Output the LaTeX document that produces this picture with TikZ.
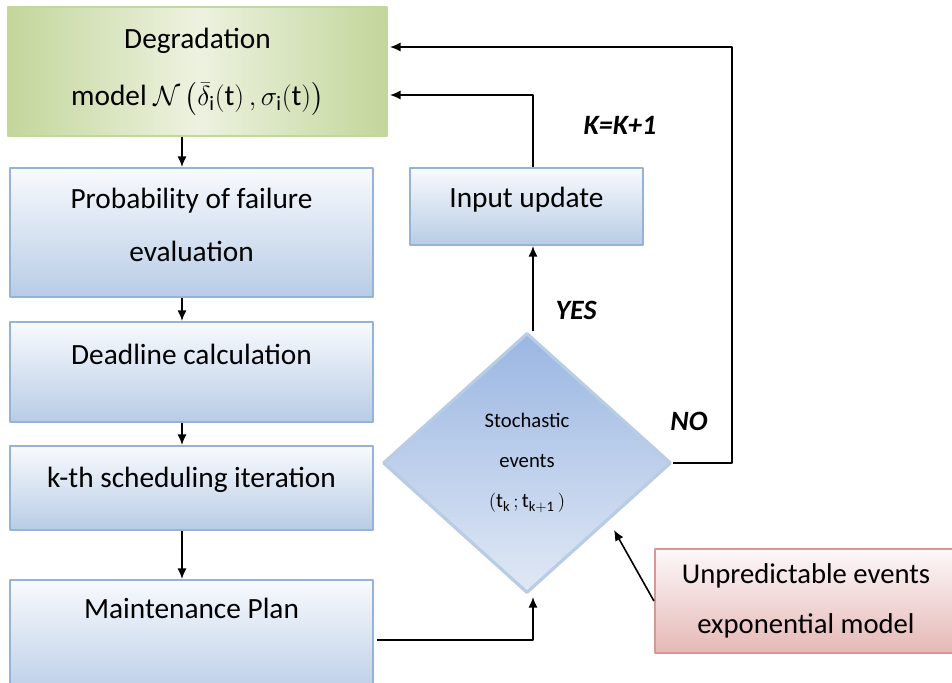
\documentclass[tikz,border=0pt]{standalone}
\usepackage{fontspec}
\setmainfont{Carlito}
\usepackage{amsmath}
\usepackage{tikz}
\usetikzlibrary{arrows, arrows.meta, shapes, positioning, calc}

\definecolor{GreenLine}{HTML}{C3D69B}
\definecolor{GreenDark}{HTML}{C3D69B}
\definecolor{GreenLight}{HTML}{EDF2E0}
\definecolor{BlueLine}{HTML}{95B3D7}
\definecolor{BlueTop}{HTML}{F8FAFD}
\definecolor{BlueBot}{HTML}{B8CCE6}
\definecolor{DiaLine}{HTML}{B8CCE4}
\definecolor{DiaTop}{HTML}{9AB6E2}
\definecolor{DiaBot}{HTML}{E0E8F5}
\definecolor{PinkLine}{HTML}{D99694}
\definecolor{PinkTop}{HTML}{FDF8F8}
\definecolor{PinkBot}{HTML}{E5B8B7}

\tikzset{
  stepbox/.style={draw=BlueLine, line width=1.6pt, top color=BlueTop, bottom color=BlueBot,
    align=center, inner sep=0pt, font=\fontsize{22}{40}\selectfont},
  greenbox/.style={draw=GreenLine, line width=1.6pt, left color=GreenDark, right color=GreenDark,
    middle color=GreenLight, align=center, inner sep=0pt, font=\fontsize{22}{43}\selectfont},
  pinkbox/.style={draw=PinkLine, line width=1.6pt, top color=PinkTop, bottom color=PinkBot,
    align=center, inner sep=0pt, font=\fontsize{21.5}{37}\selectfont},
  decision/.style={diamond, draw=DiaLine, line width=2.4pt, top color=DiaTop, bottom color=DiaBot,
    align=center, inner sep=0pt, font=\fontsize{15.5}{30}\selectfont},
  tag/.style={font=\fontsize{21}{24}\selectfont\bfseries\itshape},
  link/.style={->, line width=1.2pt}
}

\begin{document}
\begin{tikzpicture}[>={Latex[length=8pt,width=7pt]}, line join=bevel, x=0.75pt, y=-0.75pt]
\clip (0,0) rectangle (952,682);
%%
  % Node: degr
  \node[greenbox, minimum width=379*0.75pt, minimum height=129*0.75pt] (degr) at (197.5,71.5)
    {Degradation\\ model $\mathcal{N}\left(\bar{\delta}_{\mathrm{i}}(\mathrm{t})\,,\sigma_{\mathrm{i}}(\mathrm{t})\right)$};
  % Node: prob
  \node[stepbox, minimum width=363*0.75pt, minimum height=129*0.75pt, text depth=12pt] (prob) at (191.5,232.5)
    {Probability of failure\\ evaluation};
  % Node: dead
  \node[stepbox, minimum width=363*0.75pt, minimum height=100*0.75pt, text depth=26pt] (dead) at (191.5,372)
    {Deadline calculation};
  % Node: kth
  \node[stepbox, minimum width=363*0.75pt, minimum height=84*0.75pt, text depth=16pt] (kth) at (191.5,488)
    {k-th scheduling iteration};
  % Node: plan
  \node[stepbox, minimum width=363*0.75pt, minimum height=120*0.75pt, text depth=48pt] (plan) at (191.5,640)
    {Maintenance Plan};
  % Node: inp
  \node[stepbox, minimum width=233*0.75pt, minimum height=77*0.75pt, text depth=14pt] (inp) at (526.5,206.5)
    {Input update};
  % Node: dia
  \node[decision, minimum width=288*0.75pt, minimum height=260*0.75pt] (dia) at (527,463)
    {Stochastic\\ events\\ $(\mathrm{t}_{\mathrm{k}}\,;\mathrm{t}_{\mathrm{k+1}}\,)$};
  % Node: unp
  \node[pinkbox, minimum width=310*0.75pt, minimum height=104*0.75pt] (unp) at (810,601)
    {\hspace*{-6pt}Unpredictable events\\ \hspace*{-6pt}exponential model};
%%
  \coordinate (axis) at (182,0);
  \coordinate (kin) at (390,95);
  \coordinate (nin) at (390,47);
  \coordinate (nturn) at (732,0);
  \coordinate (utip) at (614,530);
  \coordinate (ptip) at (533,597);
  % Edge: degr -- prob
  \draw[link] (degr.south -| axis) -- (prob.north -| axis);
  % Edge: prob -- dead
  \draw[link] (prob.south -| axis) -- (dead.north -| axis);
  % Edge: dead -- kth
  \draw[link] (dead.south -| axis) -- (kth.north -| axis);
  % Edge: kth -- plan
  \draw[link] (kth.south -| axis) -- (plan.north -| axis);
  % Edge: dia -- inp (yes)
  \draw[link] (dia.north -| ptip) -- (inp.south -| ptip);
  % Edge: inp -- degr
  \draw[link] (inp.north -| ptip) |- (kin);
  % Edge: dia -- degr (no)
  \draw[link] (dia.east) -- (dia.east -| nturn) |- (nin);
  % Edge: plan -- dia
  \draw[link] ([xshift=2pt]plan.east) -| (ptip);
  % Edge: unp -- dia
  \draw[link] (unp.west) -- (utip);
%%
  \node[tag] (yes) at (576,310) {YES};
  \node[tag] (kk) at (620,125) {K=K+1};
  \node[tag] (no) at (689,421) {NO};
%
\end{tikzpicture}
\end{document}
